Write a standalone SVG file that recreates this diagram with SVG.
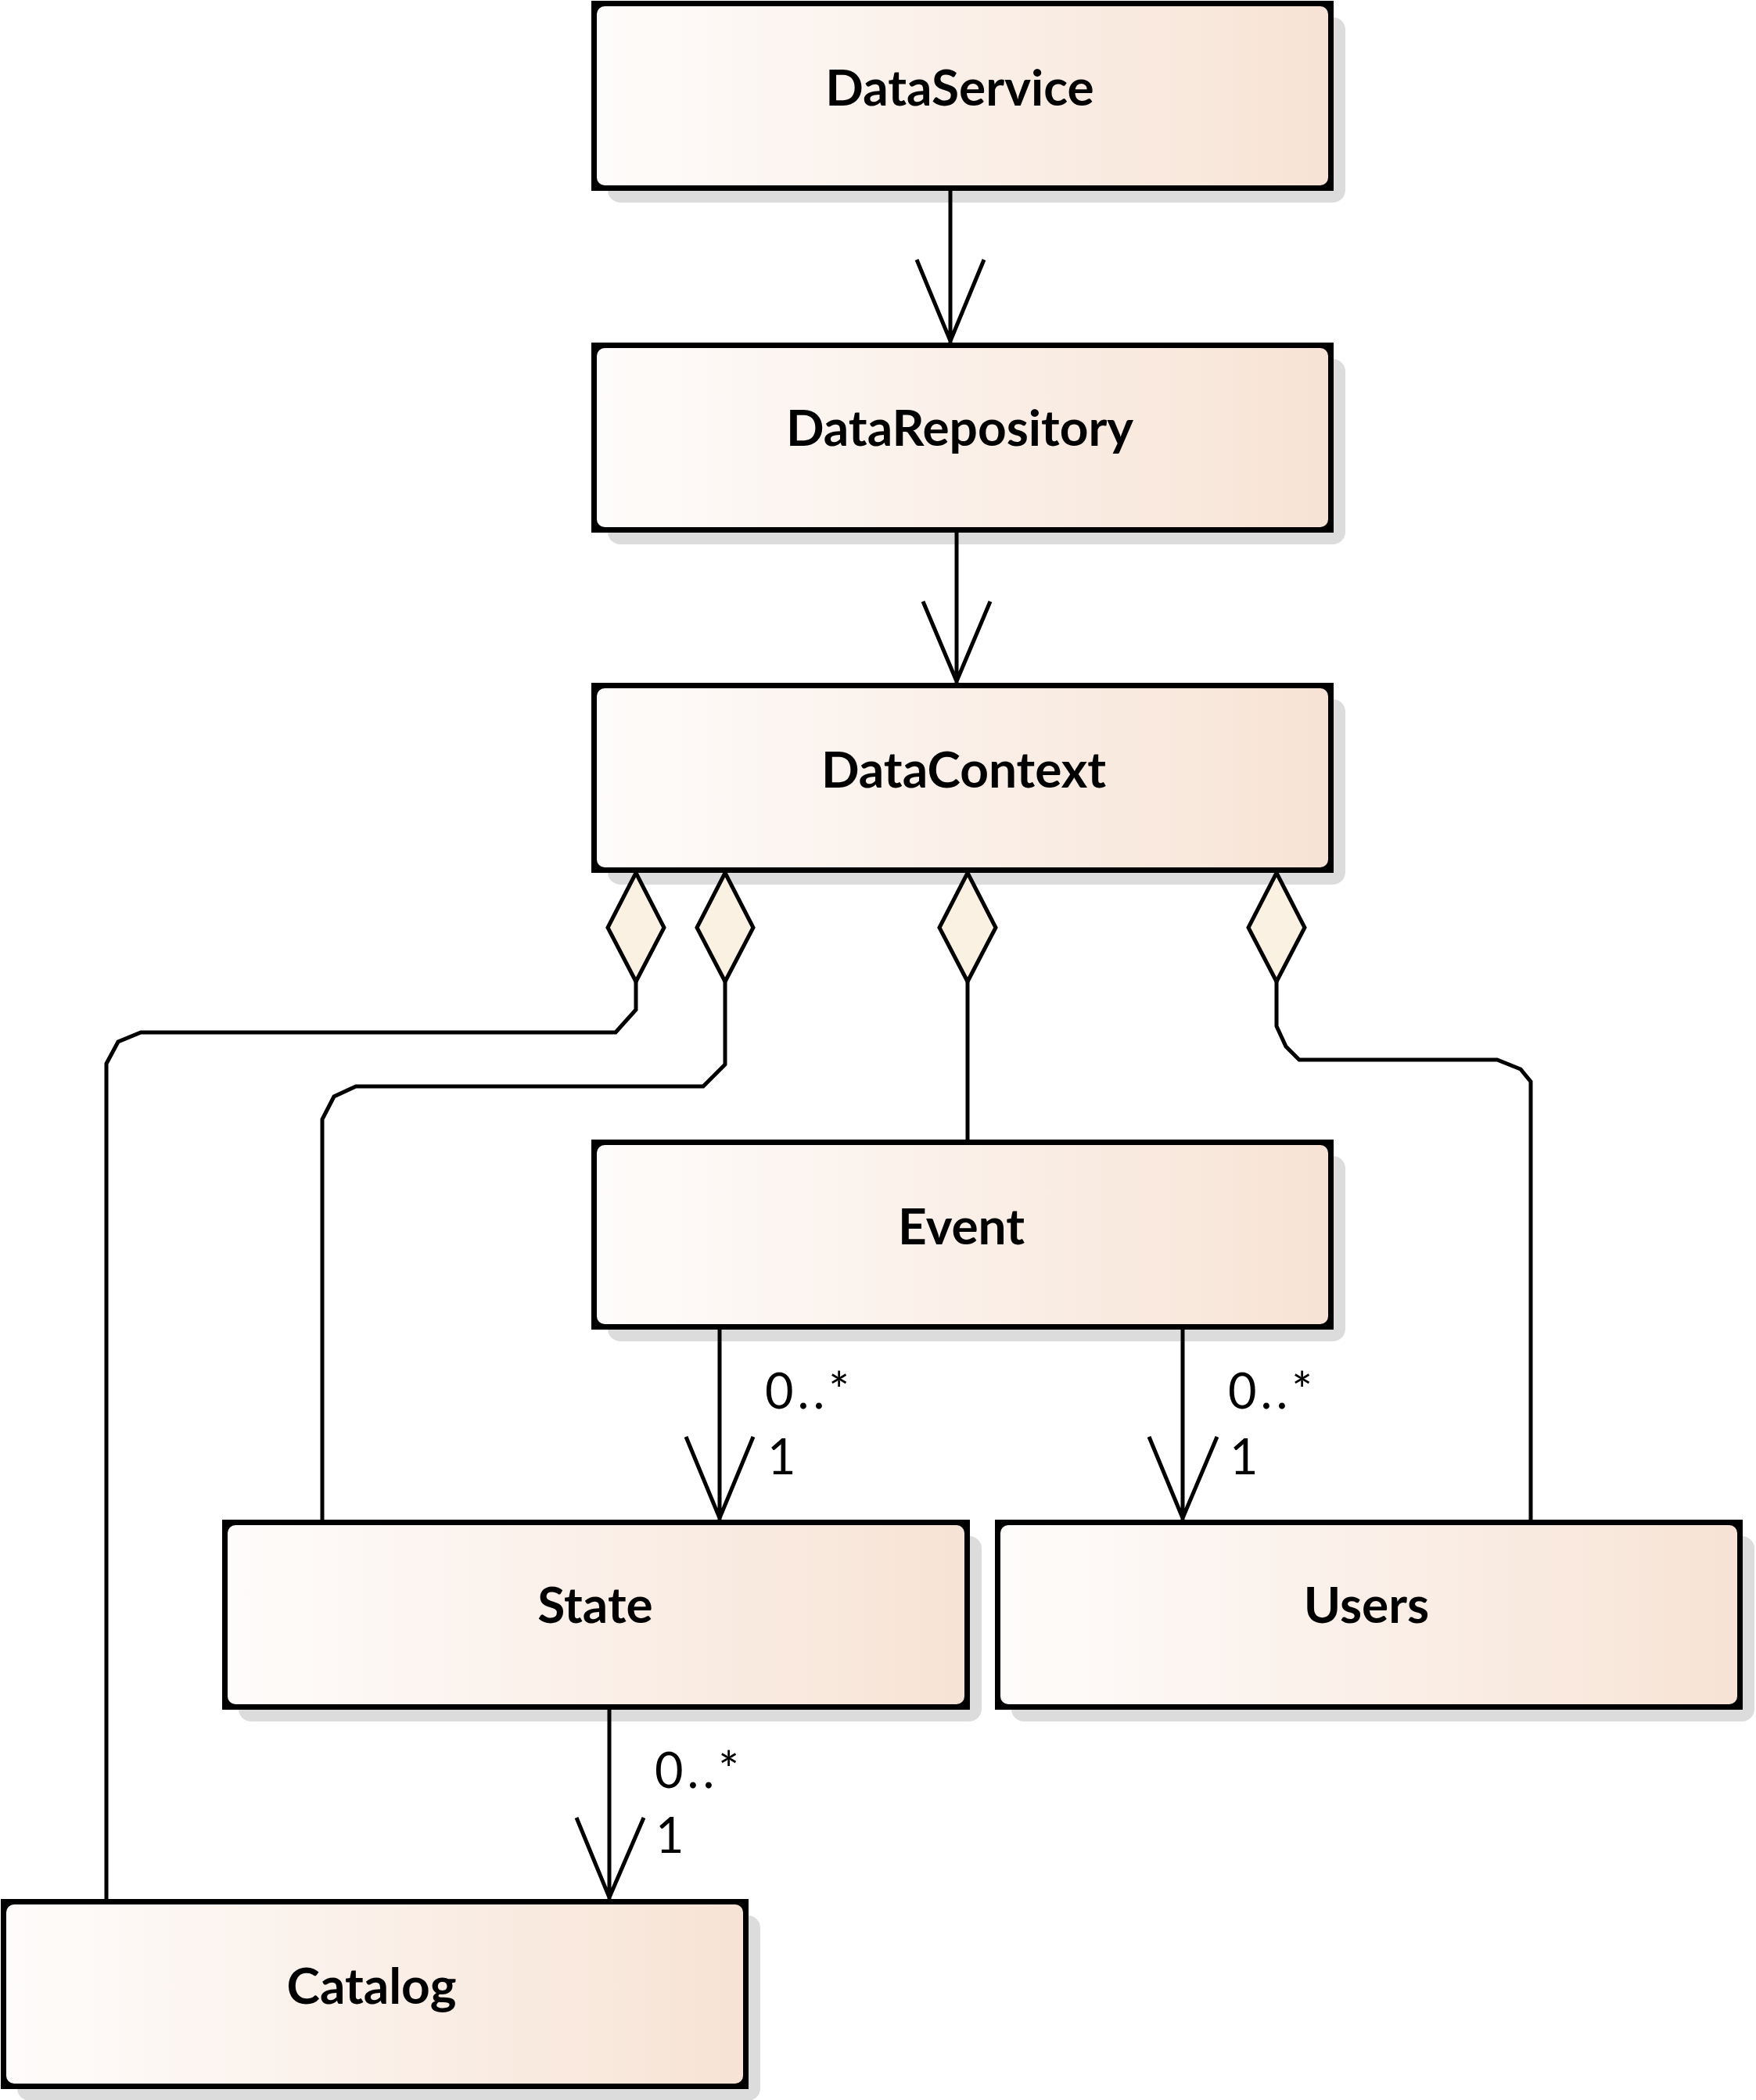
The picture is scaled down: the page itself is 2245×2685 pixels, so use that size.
<svg xmlns="http://www.w3.org/2000/svg" width="2245" height="2685" viewBox="0 0 2245 2685">
<defs>
<linearGradient id="g" x1="0" y1="0" x2="1" y2="0">
<stop offset="0" stop-color="#fefcfb"/>
<stop offset="1" stop-color="#f7e3d5"/>
</linearGradient>
<style>
.sh{fill:#dcdcdc}
.bd{fill:#000}
.in{fill:url(#g)}
.t{font-family:Lato,"Liberation Sans",sans-serif;font-weight:bold;font-size:64px;text-anchor:middle;fill:#000}
.m{font-family:Lato,"Liberation Sans",sans-serif;font-size:63px;letter-spacing:5px;fill:#000}
.c{fill:none;stroke:#000;stroke-width:5;stroke-linejoin:miter}
.d{fill:#fbf1e3;stroke:#000;stroke-width:5}
</style>
</defs>
<rect width="2245" height="2685" fill="#fff"/>
<g id="DataService">
<rect class="sh" x="777" y="22" width="943" height="237" rx="16"/>
<rect class="bd" x="756" y="1" width="949" height="243"/>
<rect class="in" x="763" y="8" width="935" height="229" rx="10"/>
<text class="t" x="1227" y="135">DataService</text>
</g>
<g id="DataRepository">
<rect class="sh" x="777" y="459" width="943" height="237" rx="16"/>
<rect class="bd" x="756" y="438" width="949" height="243"/>
<rect class="in" x="763" y="445" width="935" height="229" rx="10"/>
<text class="t" x="1227" y="570">DataRepository</text>
</g>
<g id="DataContext">
<rect class="sh" x="777" y="894" width="943" height="237" rx="16"/>
<rect class="bd" x="756" y="873" width="949" height="243"/>
<rect class="in" x="763" y="880" width="935" height="229" rx="10"/>
<text class="t" x="1232" y="1007">DataContext</text>
</g>
<g id="Event">
<rect class="sh" x="777" y="1478" width="943" height="237" rx="16"/>
<rect class="bd" x="756" y="1457" width="949" height="243"/>
<rect class="in" x="763" y="1464" width="935" height="229" rx="10"/>
<text class="t" x="1229" y="1591">Event</text>
</g>
<g id="State">
<rect class="sh" x="305" y="1964" width="950" height="237" rx="16"/>
<rect class="bd" x="284" y="1943" width="956" height="243"/>
<rect class="in" x="291" y="1950" width="942" height="229" rx="10"/>
<text class="t" x="761" y="2075">State</text>
</g>
<g id="Users">
<rect class="sh" x="1293" y="1964" width="950" height="237" rx="16"/>
<rect class="bd" x="1272" y="1943" width="956" height="243"/>
<rect class="in" x="1279" y="1950" width="942" height="229" rx="10"/>
<text class="t" x="1747" y="2075">Users</text>
</g>
<g id="Catalog">
<rect class="sh" x="22" y="2449" width="950" height="237" rx="16"/>
<rect class="bd" x="1" y="2428" width="956" height="243"/>
<rect class="in" x="8" y="2435" width="942" height="229" rx="10"/>
<text class="t" x="475" y="2562">Catalog</text>
</g>
<g id="connectors">
<path class="c" d="M1215 244 V438 M1172 332 L1215 436 L1258 332"/>
<path class="c" d="M1223 681 V873 M1180 769 L1223 871 L1266 769"/>
<path class="c" d="M813 1255 V1291 L787 1320 H180 L151 1332 L136 1360 V2428"/>
<polygon class="d" points="813,1116 849,1186 813,1255 777,1186"/>
<path class="c" d="M927 1255 V1361 L899 1389 H455 L427 1402 L412 1431 V1943"/>
<polygon class="d" points="927,1116 963,1186 927,1255 891,1186"/>
<path class="c" d="M1237 1255 V1457"/>
<polygon class="d" points="1237,1116 1273,1186 1237,1255 1201,1186"/>
<path class="c" d="M1632 1255 V1312 L1644 1338 L1661 1355 H1914 L1944 1367 L1957 1383 V1943"/>
<polygon class="d" points="1632,1116 1668,1186 1632,1255 1596,1186"/>
<path class="c" d="M920 1700 V1943 M877 1837 L920 1941 L963 1837"/>
<path class="c" d="M1512 1700 V1943 M1469 1837 L1512 1941 L1556 1837"/>
<path class="c" d="M779 2186 V2428 M737 2324 L779 2426 L823 2324"/>
<text class="m" x="978" y="1801">0..*</text>
<text class="m" x="981" y="1885">1</text>
<text class="m" x="1570" y="1801">0..*</text>
<text class="m" x="1572" y="1885">1</text>
<text class="m" x="837" y="2286">0..*</text>
<text class="m" x="838" y="2369">1</text>
</g>
</svg>
